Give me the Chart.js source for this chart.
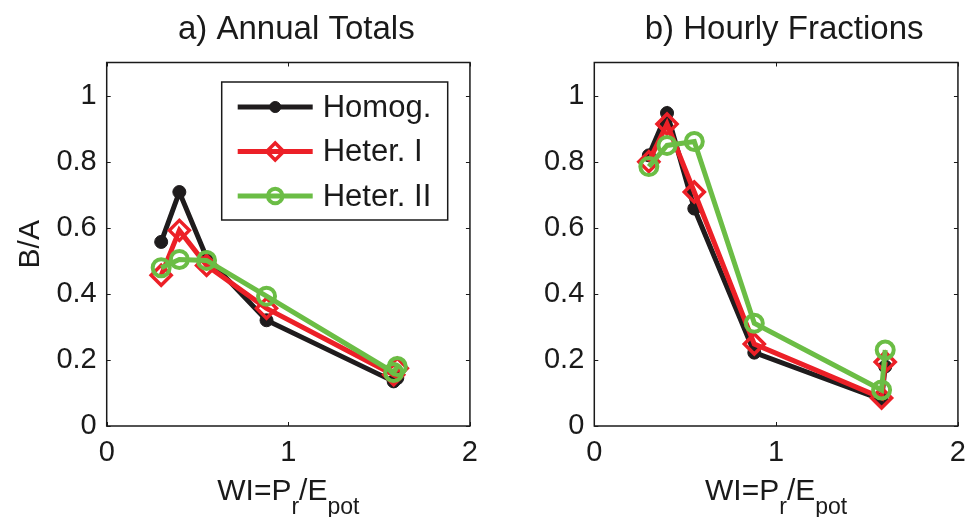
<!DOCTYPE html>
<html>
<head>
<meta charset="utf-8">
<script src="https://cdn.jsdelivr.net/npm/chart.js@4.4.1/dist/chart.umd.min.js"></script>
<style>
  html, body { margin: 0; padding: 0; background: #fff; }
  #wrap { position: relative; width: 976px; height: 517px; }
  .panel { position: absolute; top: 0; width: 488px; height: 517px; }
</style>
</head>
<body>
<div id="wrap">
  <div class="panel" style="left:0"><canvas id="chartA"></canvas></div>
  <div class="panel" style="left:488px"><canvas id="chartB"></canvas></div>
</div>
<script>
// --- data ---
const SERIES_NAMES = ["Homog.", "Heter. I", "Heter. II"];
const WI = [0.3, 0.4, 0.55, 0.88, 1.58, 1.6];

const annualHomog = [0.557, 0.708, 0.51, 0.32, 0.135, 0.145];
const annualHeterI = [0.456, 0.592, 0.486, 0.356, 0.155, 0.175];
const annualHeterII = [0.479, 0.504, 0.501, 0.393, 0.162, 0.18];

const hourlyHomog = [0.819, 0.947, 0.658, 0.222, 0.08, 0.18];
const hourlyHeterI = [0.80, 0.914, 0.708, 0.248, 0.085, 0.194];
const hourlyHeterII = [0.785, 0.849, 0.861, 0.311, 0.109, 0.23];

const X_TICKS = [0, 1, 2];
const Y_TICKS = [0, 0.2, 0.4, 0.6, 0.8, 1];

const FONT = "'Liberation Sans', Arial, Helvetica, sans-serif";
const INK = "#1a1a1a";
const STYLES = [
  { color: "#1f1c1d", pointStyle: "circle", radius: 6.5, fill: "#1f1c1d", border: 1 },
  { color: "#ec2027", pointStyle: "rectRot", radius: 10, fill: "rgba(0,0,0,0)", border: 3.5 },
  { color: "#6bbd45", pointStyle: "circle", radius: 8.5, fill: "rgba(0,0,0,0)", border: 4 }
];

function makeDatasets(seriesList) {
  return seriesList.map((vals, i) => ({
    label: SERIES_NAMES[i],
    data: vals.map((v, j) => ({ x: WI[j], y: v })),
    borderColor: STYLES[i].color,
    borderWidth: 5,
    pointStyle: STYLES[i].pointStyle,
    pointRadius: STYLES[i].radius,
    pointBackgroundColor: STYLES[i].fill,
    pointBorderColor: STYLES[i].color,
    pointBorderWidth: STYLES[i].border,
    tension: 0,
    order: 3 - i
  }));
}

// box + inward ticks like the original axes
const framePlugin = {
  id: "frame",
  afterLayout(chart) {
    // titles sit a little right of the axes centre in the original
    if (chart.titleBlock) {
      chart.titleBlock.left += 8;
      chart.titleBlock.right += 8;
    }
  },
  afterDraw(chart) {
    const { ctx, chartArea: a, scales } = chart;
    ctx.save();
    ctx.strokeStyle = INK;
    ctx.lineWidth = 1.5;
    ctx.strokeRect(a.left, a.top, a.right - a.left, a.bottom - a.top);
    ctx.lineWidth = 1;
    ctx.beginPath();
    scales.x.ticks.forEach(t => {
      const px = Math.round(scales.x.getPixelForValue(t.value)) + 0.5;
      ctx.moveTo(px, a.bottom); ctx.lineTo(px, a.bottom - 4);
      ctx.moveTo(px, a.top); ctx.lineTo(px, a.top + 4);
    });
    scales.y.ticks.forEach(t => {
      const py = Math.round(scales.y.getPixelForValue(t.value)) + 0.5;
      ctx.moveTo(a.left, py); ctx.lineTo(a.left + 4, py);
      ctx.moveTo(a.right, py); ctx.lineTo(a.right - 4, py);
    });
    ctx.stroke();

    // x axis label with subscripts: WI=P_r/E_pot
    const parts = [["WI=P", false], ["r", true], ["/E", false], ["pot", true]];
    const big = "30px " + FONT, small = "23px " + FONT;
    let total = 0;
    parts.forEach(p => { ctx.font = p[1] ? small : big; total += ctx.measureText(p[0]).width; });
    let x = (a.left + a.right) / 2 - total / 2;
    const base = a.bottom + 74;
    ctx.fillStyle = INK;
    ctx.textBaseline = "alphabetic";
    ctx.textAlign = "left";
    parts.forEach(p => {
      ctx.font = p[1] ? small : big;
      ctx.fillText(p[0], x, p[1] ? base + 14 : base);
      x += ctx.measureText(p[0]).width;
    });
    ctx.restore();
  }
};

// MATLAB-style legend box inside the left axes
const boxLegendPlugin = {
  id: "boxLegend",
  afterDraw(chart, args, opts) {
    if (!opts.show) return;
    const { ctx, chartArea: a } = chart;
    const left = a.left + 115, top = a.top + 19.5, w = 226, h = 138;
    ctx.save();
    ctx.fillStyle = "#fff";
    ctx.fillRect(left, top, w, h);
    ctx.strokeStyle = INK;
    ctx.lineWidth = 1.5;
    ctx.strokeRect(left, top, w, h);
    chart.data.datasets.forEach((ds, i) => {
      const y = top + 25 + i * 44.5;
      ctx.strokeStyle = ds.borderColor;
      ctx.lineWidth = ds.borderWidth;
      ctx.beginPath();
      ctx.moveTo(left + 16, y); ctx.lineTo(left + 91, y);
      ctx.stroke();
      ctx.fillStyle = ds.pointBackgroundColor;
      ctx.strokeStyle = ds.pointBorderColor;
      ctx.lineWidth = ds.pointBorderWidth;
      Chart.helpers.drawPoint(ctx, {
        pointStyle: ds.pointStyle, radius: ds.pointRadius * 0.85, rotation: 0, borderWidth: ds.pointBorderWidth
      }, left + 53.5, y);
      ctx.fillStyle = INK;
      ctx.font = "31px " + FONT;
      ctx.textBaseline = "middle";
      ctx.fillText(ds.label, left + 101, y + 1);
    });
    ctx.restore();
  }
};

function makeChart(id, title, seriesList, isLeft) {
  return new Chart(document.getElementById(id), {
    type: "line",
    data: { datasets: makeDatasets(seriesList) },
    options: {
      responsive: false,
      animation: false,
      devicePixelRatio: 1,
      layout: { padding: { left: 0, right: 10.3, top: 0, bottom: 0 } },
      scales: {
        x: {
          type: "linear", min: 0, max: 2,
          grid: { display: false, drawTicks: false },
          border: { display: false },
          afterBuildTicks: s => { s.ticks = X_TICKS.map(v => ({ value: v })); },
          afterFit: s => { s.height = 91; },
          ticks: { color: INK, padding: 10, font: { size: 29, family: FONT }, callback: v => String(v) }
        },
        y: {
          type: "linear", min: 0, max: 1.1,
          grid: { display: false, drawTicks: false },
          border: { display: false },
          afterBuildTicks: s => { s.ticks = Y_TICKS.map(v => ({ value: v })); },
          afterFit: s => { s.width = isLeft ? 106.7 : 106.3; },
          ticks: { color: INK, padding: 10, font: { size: 29, family: FONT }, callback: v => String(v) },
          title: {
            display: isLeft, text: "B/A", color: INK,
            font: { size: 30, family: FONT }, padding: { top: 13, bottom: 0 }
          }
        }
      },
      plugins: {
        legend: { display: false },
        tooltip: { enabled: false },
        title: {
          display: true, text: title, color: INK, fullSize: false,
          font: { size: 33, family: FONT, weight: "normal" },
          padding: { top: 10, bottom: 12.9 }
        },
        boxLegend: { show: isLeft }
      }
    },
    plugins: [framePlugin, boxLegendPlugin]
  });
}

document.getElementById("chartA").width = 488;
document.getElementById("chartA").height = 517;
document.getElementById("chartB").width = 488;
document.getElementById("chartB").height = 517;

makeChart("chartA", "a) Annual Totals", [annualHomog, annualHeterI, annualHeterII], true);
makeChart("chartB", "b) Hourly Fractions", [hourlyHomog, hourlyHeterI, hourlyHeterII], false);
</script>
</body>
</html>
